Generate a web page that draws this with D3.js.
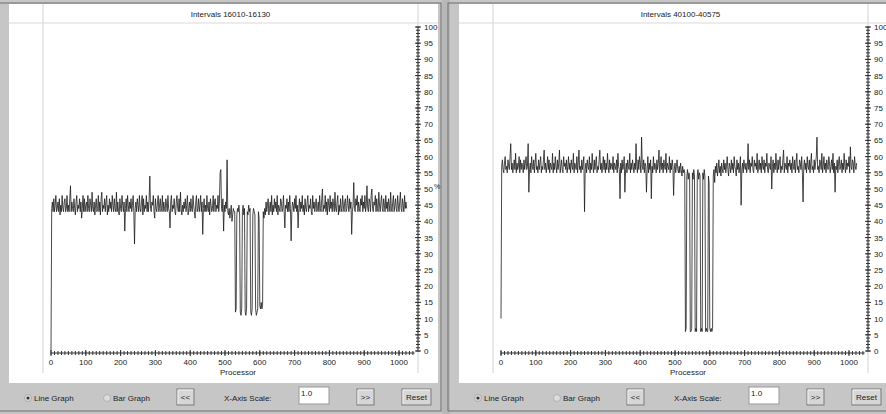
<!DOCTYPE html>
<meta charset="utf-8">
<style>
body { margin: 0; background: #b8b8b8; }
svg text { font-family: "Liberation Sans", Arial, sans-serif; fill: #222; }
</style>

<svg width="886" height="414"></svg>

<script src="https://d3js.org/d3.v7.min.js"></script>
<script>

// utilisation (%) per processor, one reading every 2 processors
var procStep = 2;

var utilLeft = [
  0, 44, 46, 43, 47, 43, 45, 48, 43, 44, 46, 43, 47, 42, 45, 43, 48, 44, 43, 46, 47, 43, 44, 48, 43, 45, 43, 47, 51, 43, 46, 44,
  43, 47, 44, 42, 46, 48, 43, 45, 44, 47, 43, 46, 41, 44, 48, 43, 47, 43, 45, 46, 43, 48, 44, 43, 47, 45, 43, 49, 44, 43, 46, 42,
  45, 47, 43, 44, 48, 43, 46, 42, 47, 49, 43, 45, 44, 47, 43, 46, 48, 42, 45, 43, 47, 44, 46, 43, 48, 45, 43, 47, 44, 43, 49, 43,
  46, 43, 42, 47, 44, 43, 48, 45, 43, 46, 37, 44, 47, 43, 48, 45, 43, 46, 44, 47, 43, 45, 48, 43, 33, 44, 46, 43, 47, 45, 43, 48,
  44, 43, 46, 48, 42, 47, 43, 45, 44, 48, 43, 46, 43, 47, 54, 44, 43, 46, 45, 48, 43, 41, 47, 44, 43, 46, 48, 43, 45, 47, 43, 44,
  48, 43, 46, 44, 43, 47, 45, 43, 48, 44, 43, 38, 46, 48, 43, 45, 44, 47, 43, 42, 46, 48, 44, 43, 47, 43, 49, 44, 42, 45, 43, 46,
  44, 47, 43, 45, 48, 42, 44, 46, 43, 47, 44, 43, 48, 45, 43, 41, 46, 48, 43, 44, 47, 43, 45, 48, 43, 46, 36, 44, 47, 43, 45, 43,
  48, 44, 43, 46, 42, 47, 45, 43, 44, 48, 43, 46, 47, 43, 45, 44, 48, 43, 46, 55, 56, 44, 43, 47, 37, 45, 43, 46, 44, 59, 43, 42,
  44, 41, 43, 45, 40, 42, 44, 43, 43, 12, 13, 42, 44, 43, 45, 42, 12, 11, 13, 43, 45, 42, 44, 12, 11, 13, 43, 42, 45, 43, 44, 12,
  11, 13, 42, 44, 43, 42, 13, 11, 12, 13, 43, 41, 14, 13, 15, 13, 14, 43, 41, 44, 42, 46, 43, 45, 47, 42, 44, 46, 43, 48, 42, 45,
  43, 47, 44, 46, 43, 48, 42, 45, 44, 43, 47, 46, 43, 44, 48, 43, 38, 45, 44, 47, 43, 46, 43, 48, 44, 34, 43, 46, 45, 43, 47, 44,
  48, 43, 45, 38, 44, 47, 43, 46, 44, 48, 43, 45, 42, 47, 44, 43, 46, 48, 43, 45, 44, 47, 43, 42, 48, 44, 46, 43, 45, 47, 43, 44,
  46, 43, 48, 44, 43, 47, 50, 43, 45, 44, 48, 43, 46, 42, 47, 45, 43, 48, 44, 46, 43, 47, 45, 43, 49, 44, 43, 46, 48, 42, 45, 43,
  47, 44, 43, 48, 45, 43, 46, 47, 43, 44, 48, 45, 43, 47, 44, 46, 36, 43, 45, 52, 44, 43, 47, 45, 48, 43, 46, 44, 43, 47, 45, 48,
  43, 46, 44, 48, 43, 45, 51, 44, 43, 47, 46, 43, 48, 50, 44, 43, 46, 45, 48, 43, 47, 44, 43, 49, 45, 43, 46, 48, 44, 43, 47, 45,
  43, 48, 44, 46, 43, 47, 45, 43, 49, 44, 43, 46, 48, 43, 45, 47, 44, 43, 48, 45, 43, 46, 49, 44, 43, 47, 45, 43, 48, 44, 46, 44
];

var utilRight = [
  10, 57, 59, 56, 55, 58, 60, 56, 57, 55, 59, 57, 56, 60, 64, 56, 58, 55, 57, 59, 56, 61, 55, 58, 56, 57, 60, 55, 59, 56, 58, 57,
  55, 59, 56, 58, 60, 56, 57, 64, 49, 56, 58, 55, 60, 57, 56, 59, 55, 58, 61, 56, 57, 55, 59, 56, 58, 60, 55, 57, 56, 59, 62, 56,
  58, 55, 57, 60, 56, 59, 55, 58, 57, 56, 61, 55, 58, 56, 60, 57, 55, 59, 56, 58, 62, 55, 57, 59, 56, 55, 60, 57, 58, 56, 59, 55,
  57, 60, 56, 58, 55, 59, 57, 56, 61, 55, 58, 57, 56, 60, 55, 58, 62, 56, 57, 55, 59, 56, 58, 60, 43, 56, 58, 55, 59, 57, 56, 60,
  55, 58, 56, 61, 57, 55, 59, 56, 58, 60, 55, 57, 56, 59, 62, 56, 58, 55, 57, 60, 56, 59, 55, 58, 56, 61, 57, 55, 59, 56, 58, 57,
  56, 60, 55, 58, 57, 56, 59, 55, 61, 57, 56, 47, 58, 55, 59, 56, 57, 60, 49, 56, 58, 55, 59, 57, 56, 61, 55, 58, 56, 59, 57, 55,
  58, 56, 64, 57, 55, 59, 56, 60, 58, 55, 66, 57, 56, 59, 55, 58, 57, 49, 56, 60, 55, 58, 56, 59, 47, 57, 55, 60, 56, 58, 57, 55,
  59, 56, 58, 62, 55, 57, 60, 56, 58, 55, 59, 57, 56, 61, 55, 58, 57, 56, 60, 55, 58, 56, 59, 57, 48, 56, 58, 55, 57, 59, 56, 55,
  57, 55, 58, 56, 54, 57, 55, 56, 55, 6, 7, 54, 56, 53, 55, 54, 6, 6, 7, 55, 53, 56, 54, 6, 7, 6, 54, 56, 53, 55, 54, 6,
  7, 6, 55, 53, 56, 54, 6, 7, 6, 6, 54, 52, 7, 6, 7, 6, 7, 54, 56, 52, 57, 55, 58, 54, 56, 59, 55, 57, 54, 58, 56, 55,
  59, 56, 58, 55, 57, 60, 56, 54, 58, 57, 55, 59, 56, 58, 55, 60, 57, 56, 54, 59, 56, 58, 55, 57, 60, 45, 56, 58, 55, 59, 57, 56,
  58, 55, 57, 64, 56, 59, 55, 58, 57, 60, 56, 55, 59, 57, 58, 56, 61, 55, 57, 59, 56, 58, 55, 60, 57, 56, 59, 55, 58, 57, 61, 56,
  55, 58, 57, 56, 60, 50, 57, 59, 55, 58, 56, 61, 57, 55, 59, 56, 58, 60, 55, 57, 56, 59, 62, 55, 58, 57, 56, 60, 55, 58, 57, 59,
  56, 58, 55, 60, 57, 56, 59, 55, 58, 61, 56, 57, 55, 59, 58, 56, 60, 55, 46, 57, 59, 56, 58, 55, 60, 57, 56, 59, 55, 58, 61, 56,
  57, 55, 59, 56, 58, 60, 66, 56, 57, 55, 59, 58, 56, 61, 55, 57, 60, 56, 58, 55, 59, 57, 56, 60, 58, 55, 57, 59, 56, 61, 55, 58,
  49, 57, 56, 59, 55, 58, 60, 56, 57, 59, 55, 58, 56, 61, 57, 55, 59, 56, 58, 57, 60, 55, 63, 57, 56, 59, 58, 55, 60, 57, 56, 58
];

var titles = ["Intervals 16010-16130", "Intervals 40100-40575"];
var yTicks = d3.range(0, 101, 5);
var yMinor = d3.range(0, 101, 1);
var xTicks = d3.range(0, 1001, 100);
var xMinor = d3.range(0, 1041, 10);

var svg = d3.select("svg");

// x: processor, y: percent
var x = d3.scaleLinear().domain([0, 1000]).range([51, 399]);
var y = d3.scaleLinear().domain([0, 100]).range([351, 27]);

function button(g, x0, y0, w, h, label) {
  g.append("rect").attr("x", x0).attr("y", y0).attr("width", w).attr("height", h)
    .attr("fill", "#d6d6d6").attr("stroke", "#7a7a7a");
  g.append("path").attr("d", "M" + (x0 + 1) + "," + (y0 + h - 1) + "V" + (y0 + 1) + "H" + (x0 + w - 1))
    .attr("fill", "none").attr("stroke", "#f4f4f4");
  g.append("text").attr("x", x0 + w / 2).attr("y", y0 + h / 2 + 3)
    .attr("text-anchor", "middle").attr("font-size", 8).text(label);
}

function drawPanel(ox, title, data, showPct) {
  var g = svg.append("g").attr("transform", "translate(" + ox + ",0)");

  // frame + control bar
  g.append("rect").attr("x", 0).attr("y", 0).attr("width", 442).attr("height", 414).attr("fill", "#c6c6c6");
  g.append("rect").attr("x", -2).attr("y", 3).attr("width", 443).attr("height", 408)
    .attr("fill", "none").attr("stroke", "#6e6e6e");
  g.append("rect").attr("x", 9).attr("y", 4).attr("width", 429).attr("height", 379).attr("fill", "#fff");

  // light grid cells
  var grid = g.append("g").attr("stroke", "#dadada").attr("stroke-width", 1.2);
  grid.append("line").attr("x1", 9).attr("x2", 438).attr("y1", 23).attr("y2", 23);
  grid.append("line").attr("x1", 43).attr("x2", 43).attr("y1", 4).attr("y2", 373);
  grid.append("line").attr("x1", 418).attr("x2", 418).attr("y1", 4).attr("y2", 373);

  g.append("text").attr("x", 230.5).attr("y", 17).attr("text-anchor", "middle")
    .attr("font-size", 8).text(title);

  // y axis on the right
  var ya = g.append("g").attr("transform", "translate(418,0)");
  ya.append("line").attr("y1", y(0)).attr("y2", y(100)).attr("stroke", "#333");
  ya.selectAll("line.minor").data(yMinor).enter().append("line").attr("class", "minor")
    .attr("x1", -2).attr("x2", 2)
    .attr("y1", function(d) { return y(d); }).attr("y2", function(d) { return y(d); })
    .attr("stroke", "#333");
  ya.selectAll("line.major").data(yTicks).enter().append("line").attr("class", "major")
    .attr("x1", -3).attr("x2", 3)
    .attr("y1", function(d) { return y(d); }).attr("y2", function(d) { return y(d); })
    .attr("stroke", "#333");
  ya.selectAll("text").data(yTicks).enter().append("text")
    .attr("x", 6).attr("y", function(d) { return y(d) + 3; })
    .attr("font-size", 8).text(function(d) { return d; });
  if (showPct) g.append("text").attr("x", 434).attr("y", 189).attr("font-size", 7).text("%");

  // x axis
  var xa = g.append("g").attr("transform", "translate(0,353)");
  xa.append("line").attr("x1", x(0)).attr("x2", x(1045)).attr("stroke", "#333");
  xa.selectAll("line.minor").data(xMinor).enter().append("line").attr("class", "minor")
    .attr("x1", function(d) { return x(d); }).attr("x2", function(d) { return x(d); })
    .attr("y1", -2).attr("y2", 2).attr("stroke", "#333");
  xa.selectAll("line.major").data(xTicks).enter().append("line").attr("class", "major")
    .attr("x1", function(d) { return x(d); }).attr("x2", function(d) { return x(d); })
    .attr("y1", -3).attr("y2", 3).attr("stroke", "#333");
  xa.selectAll("text").data(xTicks).enter().append("text")
    .attr("x", function(d) { return x(d); }).attr("y", 12)
    .attr("text-anchor", "middle").attr("font-size", 8).text(function(d) { return d; });
  g.append("text").attr("x", 238).attr("y", 375).attr("text-anchor", "middle")
    .attr("font-size", 8).text("Processor");

  // the utilisation line
  var line = d3.line()
    .x(function(d, i) { return x(i * procStep); })
    .y(function(d) { return y(d); });
  g.append("path").datum(data).attr("d", line)
    .attr("fill", "none").attr("stroke", "#1c1c1c").attr("stroke-width", 0.8);

  // controls
  g.append("circle").attr("cx", 28).attr("cy", 398).attr("r", 3.5).attr("fill", "#ddd").attr("stroke", "#aaa");
  g.append("circle").attr("cx", 28).attr("cy", 398).attr("r", 1.6).attr("fill", "#333");
  g.append("text").attr("x", 34).attr("y", 401).attr("font-size", 8).text("Line Graph");
  g.append("circle").attr("cx", 107).attr("cy", 398).attr("r", 3.5).attr("fill", "#ddd").attr("stroke", "#b0b0b0");
  g.append("text").attr("x", 113).attr("y", 401).attr("font-size", 8).text("Bar Graph");
  button(g, 177, 389, 17, 16, "<<");
  g.append("text").attr("x", 224).attr("y", 401).attr("font-size", 8).text("X-Axis Scale:");
  g.append("rect").attr("x", 299).attr("y", 387).attr("width", 30).attr("height", 17)
    .attr("fill", "#fff").attr("stroke", "#999");
  g.append("text").attr("x", 301).attr("y", 396).attr("font-size", 8).text("1.0");
  button(g, 357, 389, 17, 16, ">>");
  button(g, 402, 389, 29, 16, "Reset");
}

drawPanel(0, titles[0], utilLeft, true);
drawPanel(450, titles[1], utilRight, false);

</script>
